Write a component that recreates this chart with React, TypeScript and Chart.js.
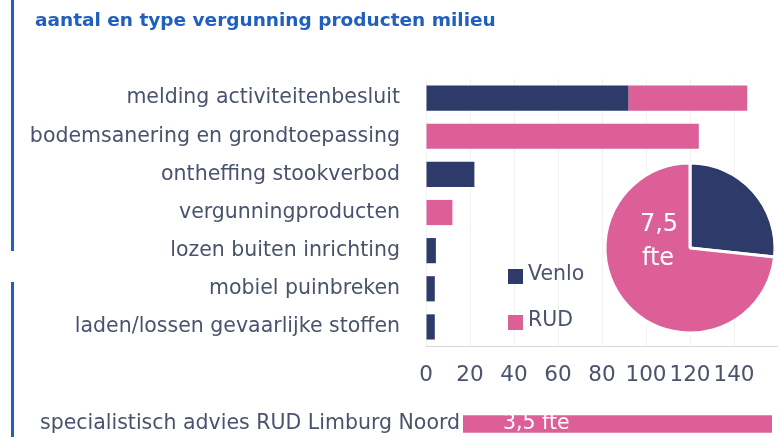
import React, { useEffect, useRef } from "react";
import { Chart, registerables } from "chart.js";

Chart.register(...registerables);

// ---- data ----
const title = "aantal en type vergunning producten milieu";
const categories = [
  "melding activiteitenbesluit",
  "bodemsanering en grondtoepassing",
  "ontheffing stookverbod",
  "vergunningproducten",
  "lozen buiten inrichting",
  "mobiel puinbreken",
  "laden/lossen gevaarlijke stoffen",
];
const seriesNames = ["Venlo", "RUD"];
const venloValues = [92, 0, 22, 0, 4.5, 4, 4];
const rudValues = [54, 124, 0, 12, 0, 0, 0];
const xTickLabels = [0, 20, 40, 60, 80, 100, 120, 140];
const xMax = 160;
const fteValues = [2, 5.5]; // Venlo, RUD
const adviceCategory = ["specialistisch advies RUD Limburg Noord"];
const adviceValues = [3.5];

// ---- styles ----
const NAVY = "#2e3a6a";
const PINK = "#dc5f98";
const TEXT = "#4a526d";
const BLUE = "#1f5fbf";
const FONT = "'DejaVu Sans', sans-serif";

const fmt = (v: number) => String(v).replace(".", ",");

export default function App() {
  const mainRef = useRef<HTMLCanvasElement>(null);
  const pieRef = useRef<HTMLCanvasElement>(null);
  const advRef = useRef<HTMLCanvasElement>(null);

  useEffect(() => {
    document.body.style.margin = "0";

    const overlayPlugin = {
      id: "overlay",
      afterDraw(chart: any) {
        const ctx = chart.ctx;
        ctx.save();
        // title
        ctx.fillStyle = BLUE;
        ctx.font = `bold 18.5px ${FONT}`;
        ctx.textBaseline = "middle";
        ctx.textAlign = "left";
        ctx.fillText(title, 35, 21);
        // legend
        const items = chart.data.datasets;
        const pos = [275, 321];
        ctx.font = `20.5px ${FONT}`;
        items.forEach((ds: any, i: number) => {
          ctx.fillStyle = ds.backgroundColor;
          ctx.fillRect(508, pos[i] - 6, 15, 15);
          ctx.fillStyle = TEXT;
          ctx.fillText(ds.label, 528, pos[i]);
        });
        ctx.restore();
      },
    };

    const main = new Chart(mainRef.current!, {
      type: "bar",
      data: {
        labels: categories,
        datasets: [
          { label: seriesNames[0], data: venloValues, backgroundColor: NAVY, barPercentage: 0.66, categoryPercentage: 1 },
          { label: seriesNames[1], data: rudValues, backgroundColor: PINK, barPercentage: 0.66, categoryPercentage: 1 },
        ],
      },
      options: {
        indexAxis: "y",
        animation: false,
        responsive: false,
        layout: { padding: { top: 79, bottom: 47, left: 0, right: 0 } },
        plugins: { legend: { display: false }, title: { display: false }, tooltip: { enabled: false } },
        scales: {
          x: {
            stacked: true,
            min: 0,
            max: xMax,
            ticks: {
              stepSize: 20,
              autoSkip: false,
              maxRotation: 0,
              padding: 17,
              color: TEXT,
              font: { family: FONT, size: 21.5 },
              callback: (v: any) => (xTickLabels.includes(Number(v)) ? String(v) : ""),
            },
            grid: { color: "#f2f2f2", drawTicks: false },
            border: { color: "#d6d6d6" },
            afterFit: (s: any) => { s.height = 44; s.paddingRight = 0; s.paddingLeft = 0; },
          },
          y: {
            stacked: true,
            ticks: { padding: 26, color: TEXT, autoSkip: false, font: { family: FONT, size: 20.5 } },
            grid: { display: false, drawTicks: false },
            border: { display: false },
            afterFit: (s: any) => { s.width = 426; },
          },
        },
      },
      plugins: [overlayPlugin],
    } as any);

    const pieTextPlugin = {
      id: "pieText",
      afterDraw(chart: any) {
        const arc = chart.getDatasetMeta(0).data[0];
        if (!arc) return;
        const total = (chart.data.datasets[0].data as number[]).reduce((a, b) => a + b, 0);
        const ctx = chart.ctx;
        ctx.save();
        ctx.fillStyle = "#ffffff";
        ctx.font = `24px ${FONT}`;
        ctx.textAlign = "center";
        ctx.textBaseline = "middle";
        ctx.fillText(fmt(total), arc.x - 31, arc.y - 23);
        ctx.fillText("fte", arc.x - 32, arc.y + 11);
        ctx.restore();
      },
    };

    const pie = new Chart(pieRef.current!, {
      type: "pie",
      data: {
        labels: seriesNames,
        datasets: [{ data: fteValues, backgroundColor: [NAVY, PINK], borderColor: "#ffffff", borderWidth: 3 }],
      },
      options: {
        animation: false,
        responsive: false,
        radius: 85,
        plugins: { legend: { display: false }, tooltip: { enabled: false } },
      },
      plugins: [pieTextPlugin],
    } as any);

    const advTextPlugin = {
      id: "advText",
      afterDraw(chart: any) {
        const bar = chart.getDatasetMeta(0).data[0];
        if (!bar) return;
        const ctx = chart.ctx;
        ctx.save();
        ctx.fillStyle = "#ffffff";
        ctx.font = `20.5px ${FONT}`;
        ctx.textAlign = "left";
        ctx.textBaseline = "middle";
        ctx.fillText(fmt(chart.data.datasets[0].data[0]) + " fte", bar.base + 40, bar.y);
        ctx.restore();
      },
    };

    const adv = new Chart(advRef.current!, {
      type: "bar",
      data: {
        labels: adviceCategory,
        datasets: [{ data: adviceValues, backgroundColor: PINK, barPercentage: 1, categoryPercentage: 1 }],
      },
      options: {
        indexAxis: "y",
        animation: false,
        responsive: false,
        layout: { padding: { top: 8, bottom: 8, left: 0, right: 6 } },
        plugins: { legend: { display: false }, tooltip: { enabled: false } },
        scales: {
          x: { display: false, min: 0, max: adviceValues[0] },
          y: {
            ticks: { padding: 3, color: TEXT, font: { family: FONT, size: 20.5 } },
            grid: { display: false, drawTicks: false },
            border: { display: false },
            afterFit: (s: any) => { s.width = 463; },
          },
        },
      },
      plugins: [advTextPlugin],
    } as any);

    return () => {
      main.destroy();
      pie.destroy();
      adv.destroy();
    };
  }, []);

  return (
    <div style={{ position: "relative", width: 778, height: 437, overflow: "hidden", background: "#ffffff" }}>
      <canvas ref={mainRef} width={778} height={437} style={{ position: "absolute", left: 0, top: 0 }} />
      <canvas ref={pieRef} width={180} height={180} style={{ position: "absolute", left: 600, top: 158 }} />
      <canvas ref={advRef} width={778} height={48} style={{ position: "absolute", left: 0, top: 400 }} />
      <div style={{ position: "absolute", left: 11, top: 0, width: 3, height: 251, background: BLUE }} />
      <div style={{ position: "absolute", left: 11, top: 282, width: 3, height: 155, background: BLUE }} />
    </div>
  );
}
